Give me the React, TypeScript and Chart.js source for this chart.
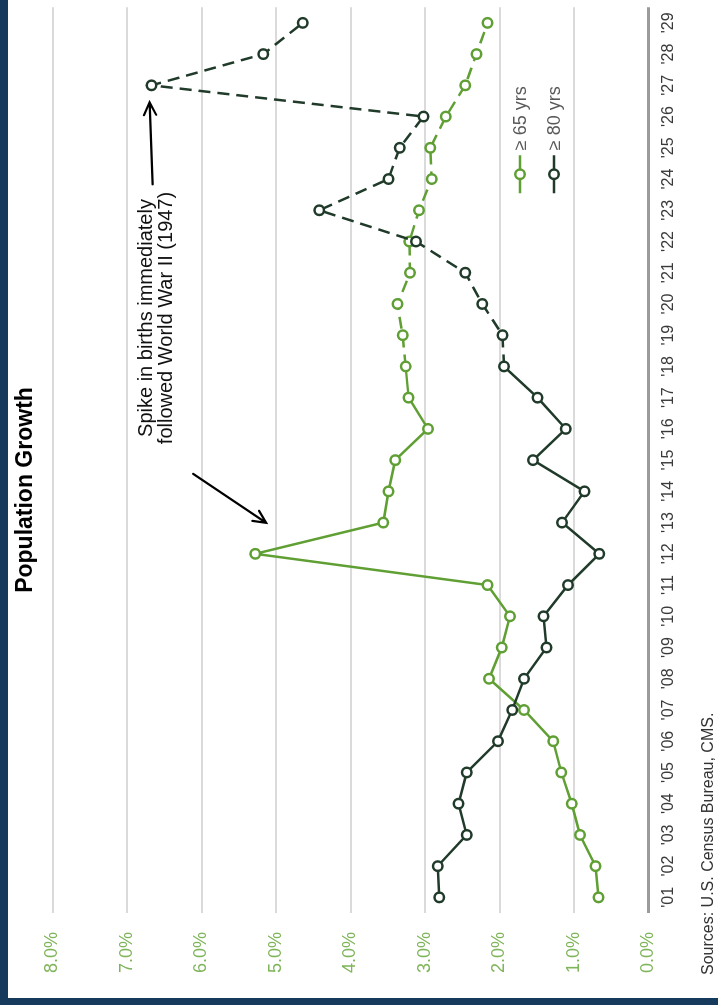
import React, { useEffect, useRef } from "react";
import { Chart, registerables } from "chart.js";

Chart.register(...registerables);

// Annual population growth, 2001–2029 (projections from 2019 on)
const years = [
  "'01", "'02", "'03", "'04", "'05", "'06", "'07", "'08", "'09", "'10",
  "'11", "'12", "'13", "'14", "'15", "'16", "'17", "'18", "'19", "'20",
  "'21", "'22", "'23", "'24", "'25", "'26", "'27", "'28", "'29",
];
const age65Plus = [
  0.67, 0.71, 0.92, 1.03, 1.17, 1.28, 1.67, 2.14, 1.97, 1.86,
  2.16, 5.28, 3.56, 3.49, 3.4, 2.96, 3.22, 3.26, 3.3, 3.37,
  3.2, 3.21, 3.08, 2.91, 2.93, 2.72, 2.46, 2.31, 2.16,
];
const age80Plus = [
  2.81, 2.83, 2.44, 2.55, 2.44, 2.02, 1.83, 1.67, 1.37, 1.41,
  1.08, 0.66, 1.16, 0.86, 1.55, 1.11, 1.49, 1.94, 1.96, 2.23,
  2.46, 3.12, 4.42, 3.49, 3.34, 3.02, 6.67, 5.17, 4.64,
];
const seriesLabels = ["\u2265 65 yrs", "\u2265 80 yrs"];
const yTickLabels = ["0.0%", "1.0%", "2.0%", "3.0%", "4.0%", "5.0%", "6.0%", "7.0%", "8.0%"];
const projectionFrom = 17; // segments after 2018 are dashed
const spikeIndex = 11; // 2012
const peak80Index = 26; // 2027
const titleText = "Population Growth";
const noteLines = ["Spike in births immediately", "followed World War II (1947)"];
const sourceText = "Sources: U.S. Census Bureau, CMS.";

const GREEN = "#5f9f33";
const DARK = "#213b2b";
const FONT = "'Liberation Sans', Arial, sans-serif";
const W = 998;
const H = 710;

function arrow(ctx: CanvasRenderingContext2D, x0: number, y0: number, x1: number, y1: number) {
  const a = Math.atan2(y1 - y0, x1 - x0);
  const len = 14;
  const spread = 0.45;
  ctx.save();
  ctx.strokeStyle = "#000";
  ctx.lineWidth = 2.2;
  ctx.lineCap = "round";
  ctx.beginPath();
  ctx.moveTo(x0, y0);
  ctx.lineTo(x1, y1);
  ctx.moveTo(x1 - len * Math.cos(a - spread), y1 - len * Math.sin(a - spread));
  ctx.lineTo(x1, y1);
  ctx.lineTo(x1 - len * Math.cos(a + spread), y1 - len * Math.sin(a + spread));
  ctx.stroke();
  ctx.restore();
}

function legendItem(ctx: CanvasRenderingContext2D, x: number, y: number, color: string, text: string) {
  ctx.save();
  ctx.strokeStyle = color;
  ctx.lineWidth = 2.5;
  ctx.beginPath();
  ctx.moveTo(x, y);
  ctx.lineTo(x + 38, y);
  ctx.stroke();
  ctx.beginPath();
  ctx.arc(x + 19, y, 4.75, 0, Math.PI * 2);
  ctx.fillStyle = "#fff";
  ctx.fill();
  ctx.stroke();
  ctx.fillStyle = "#595959";
  ctx.font = `18px ${FONT}`;
  ctx.textAlign = "left";
  ctx.textBaseline = "middle";
  ctx.fillText(text, x + 43, y + 1);
  ctx.restore();
}

const decorations = {
  id: "decorations",
  afterDraw(chart: any) {
    const ctx: CanvasRenderingContext2D = chart.ctx;
    const area = chart.chartArea;
    const xs = chart.scales.x;
    const ys = chart.scales.y;

    ctx.save();
    // title
    ctx.fillStyle = "#000";
    ctx.font = `bold 23px ${FONT}`;
    ctx.textAlign = "center";
    ctx.textBaseline = "middle";
    ctx.fillText(titleText, 508, 18);

    // source line
    ctx.font = `16px ${FONT}`;
    ctx.fillStyle = "#333";
    ctx.textAlign = "left";
    ctx.fillText(sourceText, 23, 701);

    // annotation text
    ctx.font = `20px ${FONT}`;
    ctx.fillStyle = "#111";
    ctx.textAlign = "center";
    noteLines.forEach((line, i) => ctx.fillText(line, 680, 138 + i * 20));
    ctx.restore();

    // arrows to the annotated points
    const sx = xs.getPixelForValue(spikeIndex);
    const sy = ys.getPixelForValue(age65Plus[spikeIndex]);
    arrow(ctx, sx + 80, sy - 62, sx + 31, sy + 11);
    const px = xs.getPixelForValue(peak80Index);
    const py = ys.getPixelForValue(age80Plus[peak80Index]);
    arrow(ctx, px - 99, py + 1, px - 17, py - 2);

    // legend
    legendItem(ctx, area.right - 186, area.top + 467.5, GREEN, seriesLabels[0]);
    legendItem(ctx, area.right - 186, area.top + 501.5, DARK, seriesLabels[1]);
  },
};

function series(label: string, data: number[], color: string, order: number) {
  return {
    label,
    data,
    order,
    borderColor: color,
    backgroundColor: "#fff",
    borderWidth: 2.5,
    pointRadius: 4.75,
    pointBorderWidth: 2.5,
    pointBackgroundColor: "#fff",
    pointBorderColor: color,
    pointStyle: "circle",
    tension: 0,
    fill: false,
    segment: {
      borderDash: (c: any) => (c.p0DataIndex >= projectionFrom ? [12, 7] : undefined),
    },
  };
}

export default function App() {
  const ref = useRef<HTMLCanvasElement | null>(null);

  useEffect(() => {
    if (!ref.current) return;
    const chart = new Chart(ref.current, {
      type: "line",
      data: {
        labels: years,
        datasets: [
          series(seriesLabels[0], age65Plus, GREEN, 2),
          series(seriesLabels[1], age80Plus, DARK, 1),
        ] as any,
      },
      options: {
        animation: false,
        responsive: false,
        maintainAspectRatio: false,
        devicePixelRatio: 1,
        layout: { padding: { top: 44.5, right: 7, left: 0, bottom: 0 } },
        plugins: {
          legend: { display: false },
          tooltip: { enabled: false },
          title: { display: false },
        },
        scales: {
          x: {
            type: "category",
            offset: true,
            grid: { display: false, drawTicks: false },
            border: { display: false },
            ticks: {
              autoSkip: false,
              maxRotation: 0,
              padding: 10,
              color: "#3a3a3a",
              font: { family: FONT, size: 16 },
            },
            afterFit: (s: any) => {
              s.height = 69.5;
            },
          },
          y: {
            min: 0,
            max: 8,
            ticks: {
              stepSize: 1,
              padding: 19,
              color: "#7fb55a",
              font: { family: FONT, size: 18 },
              callback: (_v: any, i: number) => yTickLabels[i],
            },
            grid: {
              drawTicks: false,
              color: (c: any) => (c.tick && c.tick.value === 0 ? "#9b9b9b" : "#dadada"),
              lineWidth: (c: any) => (c.tick && c.tick.value === 0 ? 3 : 2),
            },
            border: { display: false },
            afterFit: (s: any) => {
              s.width = 85;
            },
          },
        },
      } as any,
      plugins: [decorations],
    });
    return () => chart.destroy();
  }, []);

  return (
    <div style={{ position: "fixed", inset: 0, background: "#163a5c", overflow: "hidden" }}>
      <div
        style={{
          position: "absolute",
          left: 8,
          top: 998,
          width: W,
          height: H,
          background: "#fff",
          transform: "rotate(-90deg)",
          transformOrigin: "0 0",
        }}
      >
        <canvas ref={ref} width={W} height={H} style={{ display: "block" }} />
      </div>
    </div>
  );
}
